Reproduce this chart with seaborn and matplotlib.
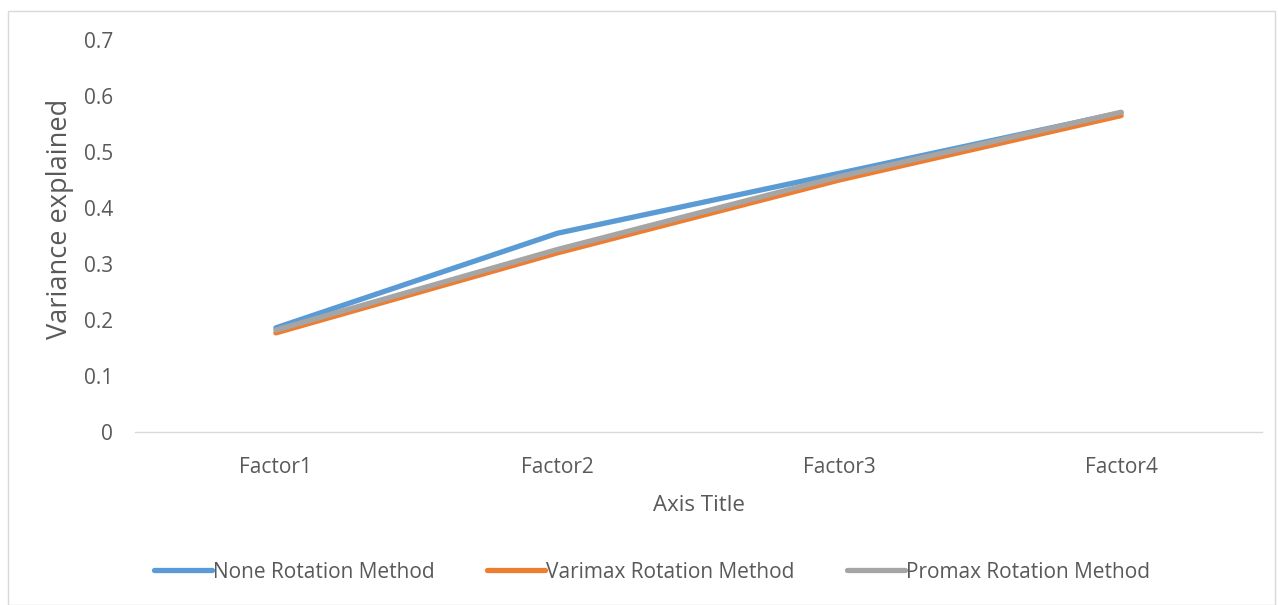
import matplotlib
matplotlib.use("Agg")
import matplotlib.pyplot as plt
import seaborn as sns
import pandas as pd
from matplotlib.patches import Rectangle
from matplotlib.lines import Line2D

categories = ["Factor1", "Factor2", "Factor3", "Factor4"]
none_rot = [0.186, 0.355, 0.462, 0.570]
varimax_rot = [0.177, 0.320, 0.450, 0.565]
promax_rot = [0.182, 0.326, 0.456, 0.571]
series_names = ["None Rotation Method", "Varimax Rotation Method", "Promax Rotation Method"]
colors = ["#5B9BD5", "#ED7D31", "#A5A5A5"]

rows = []
for name, vals in zip(series_names, [none_rot, varimax_rot, promax_rot]):
    for i, (c, v) in enumerate(zip(categories, vals)):
        rows.append({"pos": i, "cat": c, "value": v, "series": name})
df = pd.DataFrame(rows)

sns.set_theme(style="white")
plt.rcParams["font.family"] = ["Open Sans", "DejaVu Sans"]
text_color = "#595959"

fig = plt.figure(figsize=(12.78, 6.05), dpi=100)
ax = fig.add_axes([135/1278, 1 - 432/605, (1262-135)/1278, (432-26)/605])

sns.lineplot(data=df, x="pos", y="value", hue="series", hue_order=series_names,
             palette=colors, linewidth=3.8, ax=ax, legend=False,
             solid_capstyle="round", solid_joinstyle="round")

ax.set_xlim(-0.5, 3.5)
ax.set_ylim(0, 0.7 * (432-26) / (432-40))
ax.set_yticks([0, 0.1, 0.2, 0.3, 0.4, 0.5, 0.6, 0.7])
ax.set_yticklabels(["0", "0.1", "0.2", "0.3", "0.4", "0.5", "0.6", "0.7"])
ax.set_xticks(range(len(categories)))
ax.set_xticklabels(categories)
ax.tick_params(axis="both", length=0, labelsize=15, colors=text_color)
ax.tick_params(axis="x", pad=18)
ax.tick_params(axis="y", pad=16)
for s in ["top", "right", "left"]:
    ax.spines[s].set_visible(False)
ax.spines["bottom"].set_color("#D9D9D9")
ax.spines["bottom"].set_linewidth(1.0)
ax.set_xlabel("Axis Title", fontsize=16, color=text_color, labelpad=12)
ax.set_ylabel("Variance explained", fontsize=19.5, color=text_color)
ax.yaxis.set_label_coords(-(135-74)/(1262-135), (432-219)/(432-26))

handles = [Line2D([0], [0], color=c, lw=3.8, solid_capstyle="round") for c in colors]
fig.legend(handles, series_names, loc="center", bbox_to_anchor=(0.51, 1 - 572/605),
           ncol=3, frameon=False, fontsize=15, handlelength=2.8, handletextpad=0.05,
           columnspacing=2.5, labelcolor=text_color)

fig.patches.append(Rectangle((8/1278, 0), (1275-8)/1278, 1 - 11/605,
                             transform=fig.transFigure, fill=False,
                             edgecolor="#D9D9D9", linewidth=1.0))

fig.savefig("out.png", dpi=100)
